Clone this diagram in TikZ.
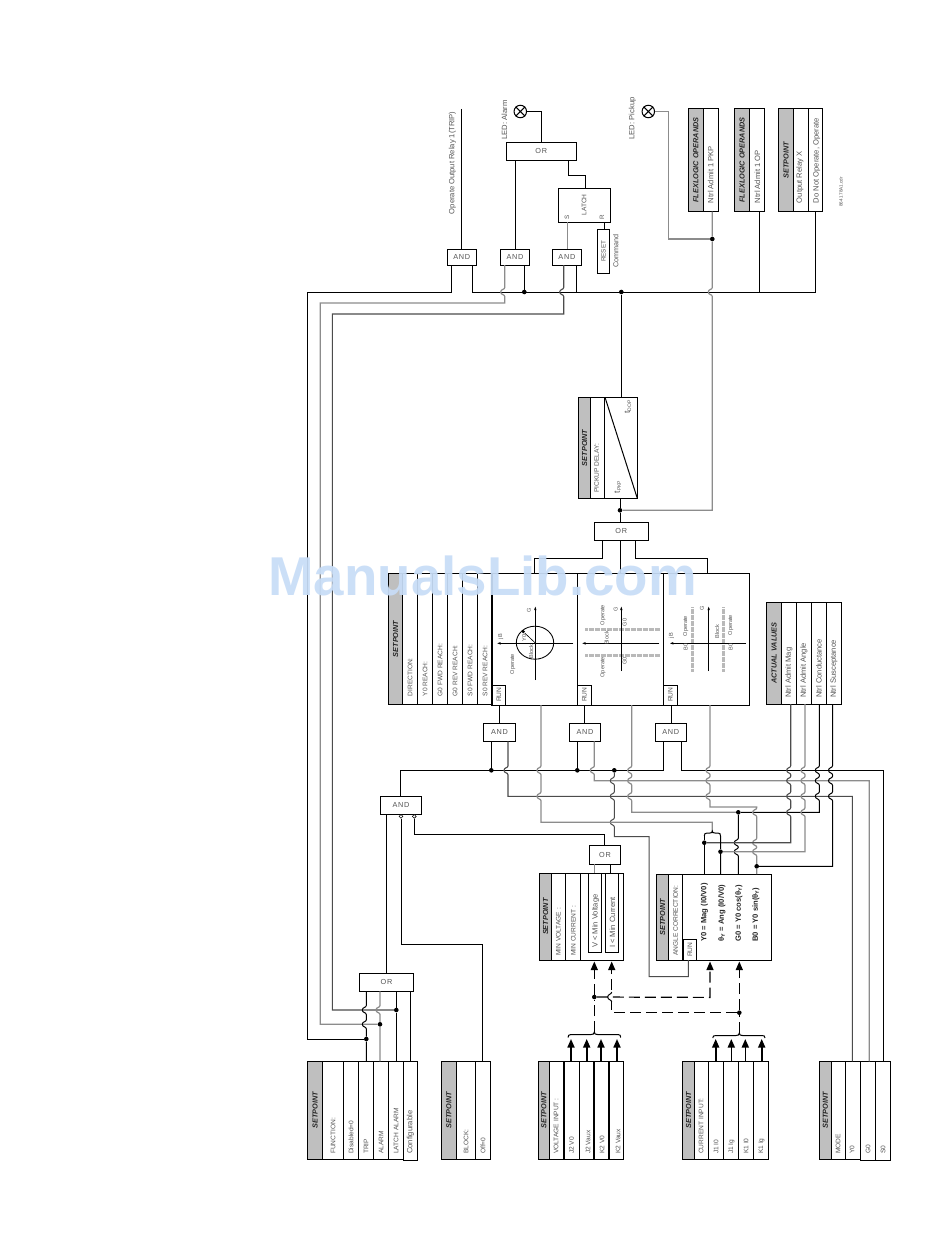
\documentclass[tikz,border=0pt]{standalone}
\usepackage{fontspec}
\setmainfont{Liberation Sans}
\usetikzlibrary{arrows.meta}
\newcounter{lb}
\definecolor{hdrgray}{gray}{0.75}
\definecolor{txtgray}{gray}{0.33}
\definecolor{wiregray}{gray}{0.55}
\definecolor{wmark}{RGB}{200,221,247}
\tikzset{
  wire/.style={draw=black,line width=1pt},
  gwire/.style={draw=wiregray,line width=1.2pt},
  dwire/.style={draw=black!70,line width=1.1pt},
  dash wire/.style={draw=black,line width=1.2pt,dash pattern=on 11pt off 5pt},
  dtip/.style={-{Triangle[length=8.5pt,width=7pt]},shorten >=1.5pt},
  solidtip/.style={draw=black,line width=1.6pt,-{Triangle[length=8.5pt,width=7pt]}},
  bx/.style={draw=black,line width=1pt,inner sep=0pt,outer sep=0pt,fill=none},
  gate/.style={bx,font=\fontsize{7.3}{8}\selectfont\addfontfeature{LetterSpace=10},text=txtgray},
  div/.style={draw=black,line width=0.8pt},
  tdiv/.style={draw=black,line width=1.6pt},
  hdr/.style={fill=hdrgray},
  dot/.style={circle,fill=black,inner sep=0pt,minimum size=4.6pt},
  inv/.style={circle,draw=black,fill=white,line width=0.6pt,inner sep=0pt,minimum size=3.8pt},
  lamp/.style={circle,draw=black,line width=1pt,inner sep=0pt,minimum size=12.5pt},
  lab/.style={rotate=90,anchor=west,inner sep=0pt,text=txtgray,font=\fontsize{6.6}{7}\selectfont},
  labm/.style={lab,font=\fontsize{7.6}{8}\selectfont},
  labc/.style={rotate=90,anchor=center,inner sep=0pt,text=txtgray,font=\fontsize{5.6}{6}\selectfont},
  hd/.style={rotate=90,anchor=center,inner sep=0pt,text=black!85,font=\fontsize{7.3}{8}\selectfont\bfseries\itshape},
  frm/.style={rotate=90,anchor=west,inner sep=0pt,text=black!85,font=\fontsize{7.6}{8}\selectfont\bfseries},
  axis/.style={draw=black,line width=1pt},
  hatch/.style={draw=gray!55,line width=3pt,dash pattern=on 0.7pt off 0.5pt},
}
% rotated label, name generated
\newcommand{\lb}[4][lab]{\stepcounter{lb}\node[#1] (lb\arabic{lb}) at (#2,#3) {#4};}
% jump of a downward wire over a horizontal one
\newcommand{\J}[2]{-- (#1,#2-4.5) .. controls (#1,#2-2.2) and (#1-4,#2-3) .. (#1-4,#2) .. controls (#1-4,#2+3) and (#1,#2+2.2) .. (#1,#2+4.5)}
% plain box: name x1 y1 x2 y2
\newcommand{\bxat}[6][bx]{\node[#1,minimum width={#5-#3},minimum height={#6-#4}] (#2) at ({(#3+#5)/2},{(#4+#6)/2})}
% table box: name x1 y1 x2 y2 greyend dividers title
\newcommand{\tbl}[8]{%
  \fill[hdr] (#2,#3) rectangle (#6,#5);
  \bxat{#1}{#2}{#3}{#4}{#5} {};
  \draw[div] (#1.north -| #6,0) -- (#1.south -| #6,0);
  \foreach \d in {#7} {\draw[div] (#1.north -| \d,0) -- (#1.south -| \d,0);}
  \node[hd] (#1t) at ({(#2+#6)/2},{(#3+#5)/2}) {#8};
}
\begin{document}
\begin{tikzpicture}[x=1pt,y=-1pt]
\useasboundingbox (0,0) rectangle (950,1260);
\fill[white] (0,0) rectangle (950,1260);

% ---------- gates
\bxat[gate]{and1}{447.3}{249}{476.3}{265} {AND};
\bxat[gate]{and2}{500.3}{249}{529.7}{265} {AND};
\bxat[gate]{and3}{552.3}{249}{581.5}{265} {AND};
\bxat[gate]{orA}{506.3}{142.3}{576.3}{160.3} {OR};
\bxat{latch}{558.3}{188.3}{610.3}{222.3} {};
\bxat{reset}{597.3}{229.3}{609.7}{273.3} {};
\bxat[gate]{orD}{594.3}{522.3}{648.3}{540.3} {OR};
\bxat[gate]{andA}{483.3}{723.3}{515.7}{741.3} {AND};
\bxat[gate]{andB}{569.3}{723.3}{600.7}{741.3} {AND};
\bxat[gate]{andC}{655.3}{723.3}{686.3}{741.3} {AND};
\bxat[gate]{andL}{380.3}{796.3}{421.7}{814.3} {AND};
\bxat[gate]{orC}{589.3}{845.3}{620.7}{864.3} {OR};
\bxat[gate]{orB}{359.3}{973.3}{413.7}{991.3} {OR};
\node[lamp] (lampA) at (520.3,111.5) {};
\node[lamp] (lampP) at (648.3,111.5) {};
\draw[wire] (lampA.45)--(lampA.225) (lampA.135)--(lampA.315);
\draw[wire] (lampP.45)--(lampP.225) (lampP.135)--(lampP.315);
\node[inv] (inv1) at (401,816.4) {};
\node[inv] (inv2) at (414.3,816.4) {};

% ---------- table boxes
\tbl{flexP}{688.3}{108.3}{718.7}{211.7}{703.3}{}{FLEXLOGIC OPERANDS}
\tbl{flexO}{734.3}{108.3}{764.7}{211.7}{749.7}{}{FLEXLOGIC OPERANDS}
\tbl{spX}{778.3}{108.3}{822.7}{211.7}{793.7}{808.3}{SETPOINT}
\tbl{pick}{578.7}{397.3}{637.3}{498.3}{590.7}{604.3}{SETPOINT}
\tbl{main}{388.3}{573.3}{491.7}{704.5}{402.7}{417.3,432.3,447.3,462.3,477.3}{SETPOINT}
\bxat{pA}{491.7}{573.3}{577.3}{705} {};
\bxat{pB}{577.3}{573.3}{663.3}{705} {};
\bxat{pC}{663.3}{573.3}{749.3}{705} {};
\draw[tdiv] (pA.north west) -- (pA.south west);
\bxat{runA}{492}{685}{505.7}{705} {};
\bxat{runB}{577.3}{685}{591.7}{705} {};
\bxat{runC}{663.3}{685}{677.7}{705} {};
\tbl{act}{766.7}{602}{841.3}{704}{781.3}{796.3,811.3,826.3}{ACTUAL VALUES}
\tbl{minb}{539.7}{873.3}{623.3}{960}{551.7}{565.3,580.3}{SETPOINT}
\bxat{vmin}{588.3}{873.3}{601.3}{952.3} {};
\bxat{imin}{605.3}{873.3}{618.3}{952.3} {};
\tbl{angle}{656.7}{874}{771.7}{960}{668.3}{682.3}{SETPOINT}
\bxat{runD}{683.3}{939.3}{696.7}{960} {};
\tbl{fn}{307.3}{1061.3}{403.3}{1159}{322.7}{343.3,358.3,373.3,388.3}{SETPOINT}
\bxat{cfg}{403.3}{1061.3}{417.3}{1160} {};
\draw[tdiv] (cfg.north west) -- (cfg.south west);
\tbl{blk}{441.3}{1061.3}{490.7}{1159}{456.3}{475.3}{SETPOINT}
\tbl{vin}{538.3}{1061.3}{623.7}{1159}{549.3}{564,579,594,609}{SETPOINT}
\draw[tdiv] (vin.north -| 564,0) -- (vin.south -| 564,0);
\draw[tdiv] (vin.north -| 594,0) -- (vin.south -| 594,0);
\draw[tdiv] (vin.north -| 609,0) -- (vin.south -| 609,0);
\tbl{cin}{682.7}{1061.3}{768.3}{1159}{694.3}{708.7,723.7,738.7,753.7}{SETPOINT}
\tbl{mode}{819.3}{1061.3}{860.7}{1159}{831.3}{845.7}{SETPOINT}
\bxat{modex}{860.7}{1061.3}{890.3}{1160} {};
\draw[div] (modex.north -| 875.7,0) -- (modex.south -| 875.7,0);

% ---------- junction dots
\node[dot] (j524) at (524.3,292) {};
\node[dot] (j621) at (621.3,292) {};
\node[dot] (j239) at (712.3,239) {};
\node[dot] (j510) at (620,510.3) {};
\node[dot] (j491) at (491.3,770.3) {};
\node[dot] (j577) at (577.3,770.3) {};
\node[dot] (j614) at (614.3,770.3) {};
\node[dot] (j738) at (738.3,812.3) {};
\node[dot] (j704) at (704.3,842.7) {};
\node[dot] (j720) at (720.5,851.7) {};
\node[dot] (j757) at (756.7,866.3) {};
\node[dot] (j366) at (366.3,1039) {};
\node[dot] (j380) at (380,1024.3) {};
\node[dot] (j396) at (396.3,1010) {};
\node[dot] (jv) at (594.3,997) {};
\node[dot] (j739) at (739.3,1012.7) {};
\coordinate (relayEnd) at (461.3,109);

% ---------- wires, top
\draw[wire] (relayEnd) -- (and1.north -| relayEnd);
\draw[wire] (lampA.east) -- (541.3,111.5) -- (orA.north -| 541.3,0);
\draw[wire] (orA.south -| 515.3,0) -- (and2.north -| 515.3,0);
\draw[wire] (orA.south -| 568.3,0) -- (568.3,175.3) -- (585.3,175.3) -- (latch.north -| 585.3,0);
\draw[gwire] (latch.south -| 567.3,0) -- (and3.north -| 567.3,0);
\draw[wire] (latch.south -| 604.3,0) -- (reset.north -| 604.3,0);
\draw[wire] (and1.south -| 472.3,0) -- (472.3,292) -- (815.3,292) -- (spX.south -| 815.3,0);
\draw[wire] (and2.south -| 524.3,0) -- (j524);
\draw[wire] (and3.south -| 576.3,0) -- (576.3,292);
\draw[wire] (pick.north -| j621) -- (j621);
\draw[wire] (flexO.south -| 759.3,0) -- (759.3,292);
\draw[wire] (and1.south -| 451.3,0) -- (451.3,292) -- (307.3,292) -- (307.3,1039) -- (j366);
\draw[gwire] (and2.south -| 504.7,0) \J{504.7}{292} -- (504.7,303) -- (320.3,303) -- (320.3,1024.3) -- (j380);
\draw[dwire] (and3.south -| 563.7,0) \J{563.7}{292} -- (563.7,314) -- (332.3,314) -- (332.3,1010) -- (j396);
\draw[gwire] (flexP.south -| 712.3,0) -- (j239) \J{712.3}{292} -- (712.3,510.3) -- (j510);
\draw[gwire] (j239) -- (668.7,239) -- (668.7,111.5) -- (lampP.east);
\draw[wire] (pick.south -| j510) -- (j510) -- (orD.north -| j510);
\draw[wire] (orD.south -| 602.3,0) -- (602.3,558.3) -- (534,558.3) -- (pA.north -| 534,0);
\draw[wire] (orD.south -| 620.3,0) -- (pB.north -| 620.3,0);
\draw[wire] (orD.south -| 635.3,0) -- (635.3,558.3) -- (707.3,558.3) -- (pC.north -| 707.3,0);

% ---------- wires, bottom-left OR
\draw[wire] (orB.south -| 366.3,0) \J{366.3}{1010} \J{366.3}{1024.3} -- (j366) -- (fn.north -| 366.3,0);
\draw[gwire] (orB.south -| 380,0) \J{380}{1010} -- (j380) -- (fn.north -| 380,0);
\draw[wire] (orB.south -| 396.3,0) -- (j396) -- (fn.north -| 396.3,0);
\draw[wire] (orB.south -| 410.3,0) -- (cfg.north -| 410.3,0);
\draw[wire] (orB.north -| 386.3,0) -- (andL.south -| 386.3,0);
\draw[wire] (andL.north -| 400.3,0) -- (400.3,770.3) -- (663.7,770.3) -- (andC.south -| 663.7,0);
\draw[wire] (inv1.south) -- (401,944.3) -- (482.3,944.3) -- (blk.north -| 482.3,0);
\draw[wire] (inv2.south) -- (414.3,834.3) -- (604.3,834.3) -- (orC.north -| 604.3,0);
\draw[gwire] (orC.south -| 594.3,0) -- (minb.north -| 594.3,0);
\draw[wire] (orC.south -| 610.7,0) -- (minb.north -| 610.7,0);

% ---------- wires, middle
\draw[wire] (pA.south -| 499.3,0) -- (andA.north -| 499.3,0);
\draw[wire] (pB.south -| 584.3,0) -- (andB.north -| 584.3,0);
\draw[wire] (pC.south -| 671.7,0) -- (andC.north -| 671.7,0);
\draw[wire] (andA.south -| j491) -- (j491);
\draw[wire] (andB.south -| j577) -- (j577);
\draw[dwire] (andA.south -| 508,0) \J{508}{770.3} -- (508,796.3) -- (852.3,796.3) -- (mode.north -| 852.3,0);
\draw[gwire] (andB.south -| 594.3,0) \J{594.3}{770.3} -- (594.3,780.7) -- (869.3,780.7) -- (modex.north -| 869.3,0);
\draw[wire] (andC.south -| 681.3,0) -- (681.3,770.3) -- (883.5,770.3) -- (modex.north -| 883.5,0);
\draw[dwire,line width=1pt] (j614) \J{614.3}{780.7} \J{614.3}{796.3} \J{614.3}{822.3} -- (614.3,836.7) -- (649,836.7) -- (649,976.7) -- (688.3,976.7) -- (runD.south -| 688.3,0);
\draw[gwire] (pA.south -| 541,0) \J{541}{770.3} \J{541}{796.3} -- (541,822.3) -- (712.3,822.3) -- (712.3,831);
\draw[gwire] (pB.south -| 631.7,0) \J{631.7}{770.3} \J{631.7}{780.7} \J{631.7}{796.3} -- (631.7,812.3) -- (j738);
\draw[wire] (act.south -| 819.3,0) \J{819.3}{770.3} \J{819.3}{780.7} \J{819.3}{796.3} -- (819.3,812.3) -- (j738);
\draw[wire] (j738) \J{738.3}{842.7} \J{738.3}{851.7} -- (angle.north -| 738.3,0);
\draw[gwire] (pC.south -| 710,0) \J{710}{770.3} \J{710}{780.7} \J{710}{796.3} -- (710,807) -- (756.7,807) \J{756.7}{812.3} \J{756.7}{842.7} \J{756.7}{851.7} -- (j757) -- (angle.north -| 756.7,0);
\draw[wire] (act.south -| 832.5,0) \J{832.5}{770.3} \J{832.5}{780.7} \J{832.5}{796.3} -- (832.5,866.3) -- (j757);
\draw[dwire] (act.south -| 790.7,0) \J{790.7}{770.3} \J{790.7}{780.7} \J{790.7}{796.3} \J{790.7}{812.3} -- (790.7,842.7) -- (j704);
\draw[gwire] (act.south -| 805,0) \J{805}{770.3} \J{805}{780.7} \J{805}{796.3} \J{805}{812.3} -- (805,851.7) -- (j720);
\draw[wire] (704.3,836) .. controls (704.3,834) and (705,833) .. (707,833) -- (710,833) .. controls (711.5,833) and (712.3,832.5) .. (712.3,831) .. controls (712.3,832.5) and (713,833) .. (715,833) -- (718,833) .. controls (720,833) and (720.5,834) .. (720.5,836) -- (j720) -- (angle.north -| j720);
\draw[wire] (704.3,836) -- (j704) -- (angle.north -| j704);

% ---------- dashed control wires and arrows
\foreach \n/\x in {a/571,b/586.7,c/601,d/617} {\draw[solidtip] (vin.north -| \x,0) -- (\x,1039);}
\foreach \n/\x in {a/715.7,b/731.3,c/745.3,d/761.7} {\draw[solidtip] (cin.north -| \x,0) -- (\x,1039);}
\draw[wire] (568,1037.5) .. controls (568,1035.5) and (569,1034.5) .. (571,1034.5) -- (591,1034.5) .. controls (593,1034.5) and (594.3,1034) .. (594.3,1032) .. controls (594.3,1034) and (595.5,1034.5) .. (597.5,1034.5) -- (618,1034.5) .. controls (620,1034.5) and (620.7,1035.5) .. (620.7,1037.5);
\draw[wire] (712.7,1038) .. controls (712.7,1036) and (714,1035.5) .. (716,1035.5) -- (736,1035.5) .. controls (738,1035.5) and (739.3,1035) .. (739.3,1033) .. controls (739.3,1035) and (740.5,1035.5) .. (742.5,1035.5) -- (762,1035.5) .. controls (764,1035.5) and (765,1036) .. (765,1038);
\coordinate (bv) at (594.3,1032);
\coordinate (bi) at (739.3,1033);
\draw[dash wire] (bv) -- (jv);
\draw[dash wire,dtip] (jv) -- (minb.south -| jv);
\draw[dash wire,dtip] (jv) -- (710,997.4) -- (angle.south -| 710,0);
\draw[dash wire] (bi) -- (j739);
\draw[dash wire,dtip] (j739) -- (angle.south -| j739);
\draw[dash wire] (j739) -- (611.7,1012.7) -- (611.7,1002);
\draw[wire] (611.7,1002) .. controls (611.7,999.5) and (607.7,1000) .. (607.7,997) .. controls (607.7,994) and (611.7,994.5) .. (611.7,992);
\draw[dash wire,dtip] (611.7,990) -- (minb.south -| 611.7,0);

% ---------- polar panels
\draw[axis,-{Stealth[length=3.5pt,width=2.5pt]}] (573.3,643.3) -- (497.3,643.3);
\draw[axis,-{Stealth[length=3.5pt,width=2.5pt]}] (535.3,680) -- (535.3,606.7);
\draw[wire,line width=0.85pt] (535,642.7) ellipse [x radius=18.7,y radius=16.5];
\node[dot,minimum size=3.4pt] (yd) at (523.3,631.7) {};
\draw[wire,line width=0.6pt] (535,642.7) -- (yd);
\draw[hatch] (585,629.7) -- (660,629.7);
\draw[hatch] (585,655.7) -- (660,655.7);
\draw[axis,-{Stealth[length=3.5pt,width=2.5pt]}] (659.3,643.3) -- (582.3,643.3);
\draw[axis,-{Stealth[length=3.5pt,width=2.5pt]}] (621.3,671) -- (621.3,606.7);
\draw[hatch] (692,607.3) -- (692,671.7);
\draw[hatch] (723.7,607.3) -- (723.7,671.7);
\draw[axis,-{Stealth[length=3.5pt,width=2.5pt]}] (746,643.3) -- (670,643.3);
\draw[axis,-{Stealth[length=3.5pt,width=2.5pt]}] (708.7,671) -- (708.7,606.7);
\foreach \a/\b/\t in {529/610/G,500.7/636.7/jB,524.3/637.7/Y0,531/651.7/Block,512.7/664/Operate,
  615.7/609/G,603/615/Operate,624.7/622.3/G0,606.7/638/Block,603/667.3/Operate,624.7/660.7/G0,
  702/608/G,671.3/635.7/jB,685.7/626/Operate,717/631.7/Block,730.7/625/Operate,685.7/647.3/B0,730.7/647.3/B0}
  {\lb[labc]{\a}{\b}{\t}}

% ---------- labels
\lb[labm]{452.3}{214.3}{Operate Output Relay 1(TRIP)}
\lb[labm]{504.3}{139.5}{LED: Alarm}
\lb[labm]{632.3}{139.5}{LED: Pickup}
\lb[labc,font=\fontsize{6.6}{7}\selectfont]{584}{205}{LATCH}
\lb[labc,font=\fontsize{6.3}{7}\selectfont]{567}{217.5}{S}
\lb[labc,font=\fontsize{6.3}{7}\selectfont]{602}{217.5}{R}
\lb[labc,font=\fontsize{6.3}{7}\selectfont]{603.5}{251.3}{RESET}
\lb[labc,font=\fontsize{7.2}{8}\selectfont]{615.7}{251.3}{Command}
\lb[labm]{710.7}{203.3}{Ntrl Admit 1 PKP}
\lb[labm]{757.3}{203.3}{Ntrl Admit 1 OP}
\lb[labm]{800}{203.3}{Output Relay X}
\lb[labm]{816.7}{203.3}{Do Not Operate, Operate}
\lb[labc,font=\fontsize{4.6}{5}\selectfont]{841}{192}{864 178A1.cdr}
\lb{596.7}{493}{PICKUP DELAY:}
\lb[labc,font=\fontsize{8.5}{9}\selectfont]{617.7}{487}{t{\fontsize{5}{6}\selectfont\raisebox{-1pt}{PKP}}}
\lb[labc,font=\fontsize{8.5}{9}\selectfont]{628}{407}{t{\fontsize{5}{6}\selectfont\raisebox{-1pt}{DOP}}}
\draw[wire] (pick.north -| 605,0) -- (pick.south east);
\foreach \x/\t in {410/DIRECTION:,425/Y0 REACH:,440/G0 FWD REACH:,455/G0 REV REACH:,470/S0 FWD REACH:,485/S0 REV REACH:}
  {\lb{\x}{696.5}{\t}}
\lb{498.8}{702}{RUN}
\lb{584.5}{702}{RUN}
\lb{670.5}{702}{RUN}
\lb{690}{957}{RUN}
\foreach \x/\t in {789/Ntrl Admit Mag,804/Ntrl Admit Angle,819/Ntrl Conductance,834/Ntrl Susceptance}
  {\lb[labm]{\x}{698}{\t}}
\lb{558.3}{956}{MIN VOLTAGE :}
\lb{573.3}{956}{MIN CURRENT :}
\lb[labm]{595.7}{948}{V < Min Voltage}
\lb[labm]{612.3}{948}{I < Min Current}
\lb{675.7}{956}{ANGLE CORRECTION:}
\lb[frm]{704.3}{941.7}{Y0 = Mag (I0/V0)}
\lb[frm]{722}{941.7}{θ\textsubscript{Y} = Ang (I0/V0)}
\lb[frm]{739}{941.7}{G0 = Y0 cos(θ\textsubscript{Y})}
\lb[frm]{756}{941.7}{B0 = Y0 sin(θ\textsubscript{Y})}
\foreach \x/\t in {333/FUNCTION:,351/Disabled=0,366/TRIP,381/ALARM,396/LATCH ALARM,466/BLOCK:,483/Off=0,
  556/VOLTAGE INPUT :,571.7/J2 V0,588/J2 Vaux,602/K2 V0,618/K2 Vaux,
  701/CURRENT INPUT:,716/J1 I0,731.5/J1 Ig,746/K1 I0,761.5/K1 Ig,
  838/MODE,852/Y0,868/G0,883/S0}
  {\lb{\x}{1154}{\t}}
\lb[labm]{410.3}{1154}{Configurable}

% ---------- watermark
\node[anchor=base west,inner sep=0pt,text=wmark,opacity=0.93,font=\fontsize{54.7}{56}\selectfont\bfseries] (wm) at (268,595) {ManualsLib.com};
\end{tikzpicture}
\end{document}
